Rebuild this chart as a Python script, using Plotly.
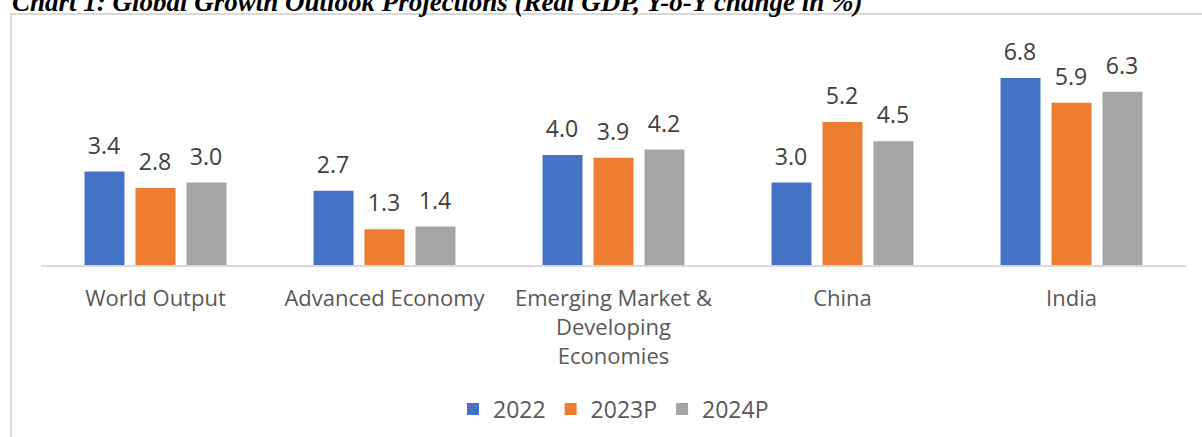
import plotly.graph_objects as go

categories = ["World Output", "Advanced Economy", "Emerging Market &<br>Developing<br>Economies", "China", "India"]
series_names = ["2022", "2023P", "2024P"]
v2022 = [3.4, 2.7, 4.0, 3.0, 6.8]
v2023 = [2.8, 1.3, 3.9, 5.2, 5.9]
v2024 = [3.0, 1.4, 4.2, 4.5, 6.3]
colors = ["#4472C4", "#ED7D31", "#A5A5A5"]
title_text = "Chart 1: Global Growth Outlook Projections (Real GDP, Y-o-Y change in %)"

W, H = 1202, 437
ML, MR, MT, MB = 41, 16, 45, 172
pw, ph = W - ML - MR, H - MT - MB

def px_x(x):
    return (x - ML) / pw

def px_y(y):
    return (H - MB - y) / ph

fig = go.Figure()
for name, vals, col in zip(series_names, [v2022, v2023, v2024], colors):
    fig.add_trace(go.Bar(
        x=categories, y=vals, name=name, marker_color=col, marker_line_width=0,
        text=[f"<sup>{v:.1f}</sup><span style='font-size:4px'>\u00a0</span>" for v in vals],
        textposition="outside", constraintext="none",
        textfont=dict(size=33, color="#404040", family="Open Sans"),
        cliponaxis=False,
    ))

fig.update_layout(
    width=W, height=H,
    margin=dict(l=ML, r=MR, t=MT, b=MB, pad=0, autoexpand=False),
    paper_bgcolor="white", plot_bgcolor="white",
    barmode="group", bargap=0.332, bargroupgap=0.216,
    font=dict(family="Open Sans", color="#595959"),
    showlegend=True,
    legend=dict(orientation="h", x=0.5, xanchor="center", y=px_y(409), yanchor="middle",
                font=dict(size=23, color="#595959"), itemwidth=30, traceorder="normal"),
    xaxis=dict(showline=True, linecolor="#D9D9D9", linewidth=2, showgrid=False,
               ticks="outside", ticklen=13, tickcolor="rgba(0,0,0,0)",
               tickfont=dict(size=22, color="#595959")),
    yaxis=dict(range=[0, 8], visible=False, showgrid=False, zeroline=False),
    annotations=[dict(
        text="<b><i>" + title_text + "</i></b>", xref="paper", yref="paper",
        x=px_x(10), y=px_y(19), xanchor="left", yanchor="bottom", showarrow=False,
        font=dict(family="Liberation Serif", size=27, color="#000000"),
    )],
    shapes=[dict(type="rect", xref="paper", yref="paper",
                 x0=px_x(11), x1=px_x(1240), y0=px_y(14), y1=px_y(480),
                 line=dict(color="#D9D9D9", width=2), layer="below")],
)

fig.write_html("out.html", config={"displayModeBar": False},
               post_script="document.body.style.margin='0';document.body.style.overflow='hidden';")
